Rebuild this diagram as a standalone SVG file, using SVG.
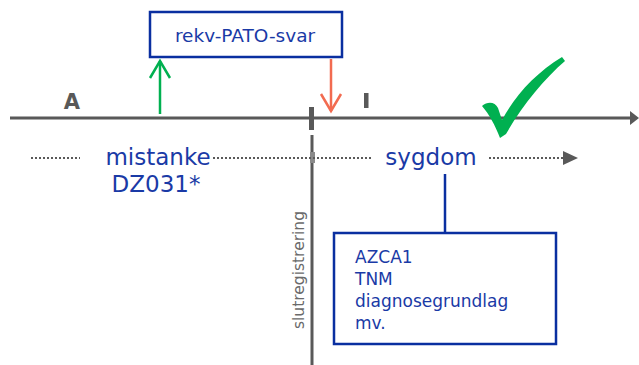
<svg xmlns="http://www.w3.org/2000/svg" width="639" height="365" viewBox="0 0 639 365">
<style>
.axis{stroke:#595959;stroke-width:3;fill:none}
.dot{stroke:#595959;stroke-width:2;stroke-dasharray:2 2;fill:none}
.box{fill:#fff;stroke:#0a2fa0;stroke-width:2.5}
.blue{fill:#1a3aa6;font-family:"DejaVu Sans",Verdana,sans-serif}
.gray{fill:#595959;font-family:"DejaVu Sans",Verdana,sans-serif}
</style>
<rect width="639" height="365" fill="#fff"/>
<g id="connectors">
  <line class="axis" x1="10" y1="118" x2="632" y2="118"/>
  <polygon points="630,111 639,118 630,125" fill="#595959"/>
  <rect x="309" y="107" width="5" height="23" fill="#595959"/>
  <line class="axis" x1="312" y1="135" x2="312" y2="365"/>
  <rect x="310" y="152" width="5" height="11" fill="#8a8a8a"/>
  <line class="dot" x1="31" y1="158" x2="80" y2="158"/>
  <line class="dot" x1="213" y1="158" x2="372" y2="158"/>
  <line class="dot" x1="489" y1="158" x2="564" y2="158"/>
  <polygon points="563,151 578,158 563,165" fill="#595959"/>
  <line x1="160" y1="114" x2="160" y2="61" stroke="#00b050" stroke-width="2.5"/>
  <polyline points="150,78 160,61 170,78" fill="none" stroke="#00b050" stroke-width="2.5"/>
  <line x1="331" y1="59" x2="331" y2="111" stroke="#f26b50" stroke-width="2.5"/>
  <polyline points="321,94 331,111 341,94" fill="none" stroke="#f26b50" stroke-width="2.5"/>
  <line x1="445" y1="174" x2="445" y2="233" stroke="#0a2fa0" stroke-width="2.5"/>
</g>
<g id="label-A"><text class="gray" x="72" y="108.5" font-size="21" font-weight="bold" text-anchor="middle">A</text></g>
<g id="label-I"><rect x="364" y="93" width="4.5" height="15" fill="#595959"/></g>
<g id="node-rekv">
  <rect class="box" x="150" y="12" width="192" height="45"/>
  <text class="blue" x="245" y="42" font-size="18.5" text-anchor="middle">rekv-PATO-svar</text>
</g>
<g id="node-mistanke">
  <text class="blue" x="158" y="165" font-size="23" text-anchor="middle">mistanke</text>
  <text class="blue" x="156" y="192" font-size="23" text-anchor="middle">DZ031*</text>
</g>
<g id="node-sygdom">
  <text class="blue" x="431" y="165" font-size="23" text-anchor="middle">sygdom</text>
</g>
<g id="node-slutregistrering">
  <text transform="translate(304,270) rotate(-90)" font-size="15.5" text-anchor="middle" fill="#6a6a6a" font-family="'DejaVu Sans',Verdana,sans-serif">slutregistrering</text>
</g>
<g id="node-details">
  <rect class="box" x="334" y="233" width="222" height="111"/>
  <text class="blue" font-size="17">
    <tspan x="355" y="263">AZCA1</tspan>
    <tspan x="355" y="285">TNM</tspan>
    <tspan x="355" y="307">diagnosegrundlag</tspan>
    <tspan x="355" y="329">mv.</tspan>
  </text>
</g>
<g id="checkmark">
  <path d="M482,106 C488,101 495,102 498,108 L502,120 C516,94 536,73 562,57 L565,61 C544,79 522,106 506,134 L500,138 C495,125 489,114 482,106 Z" fill="#00b050"/>
</g>
</svg>
